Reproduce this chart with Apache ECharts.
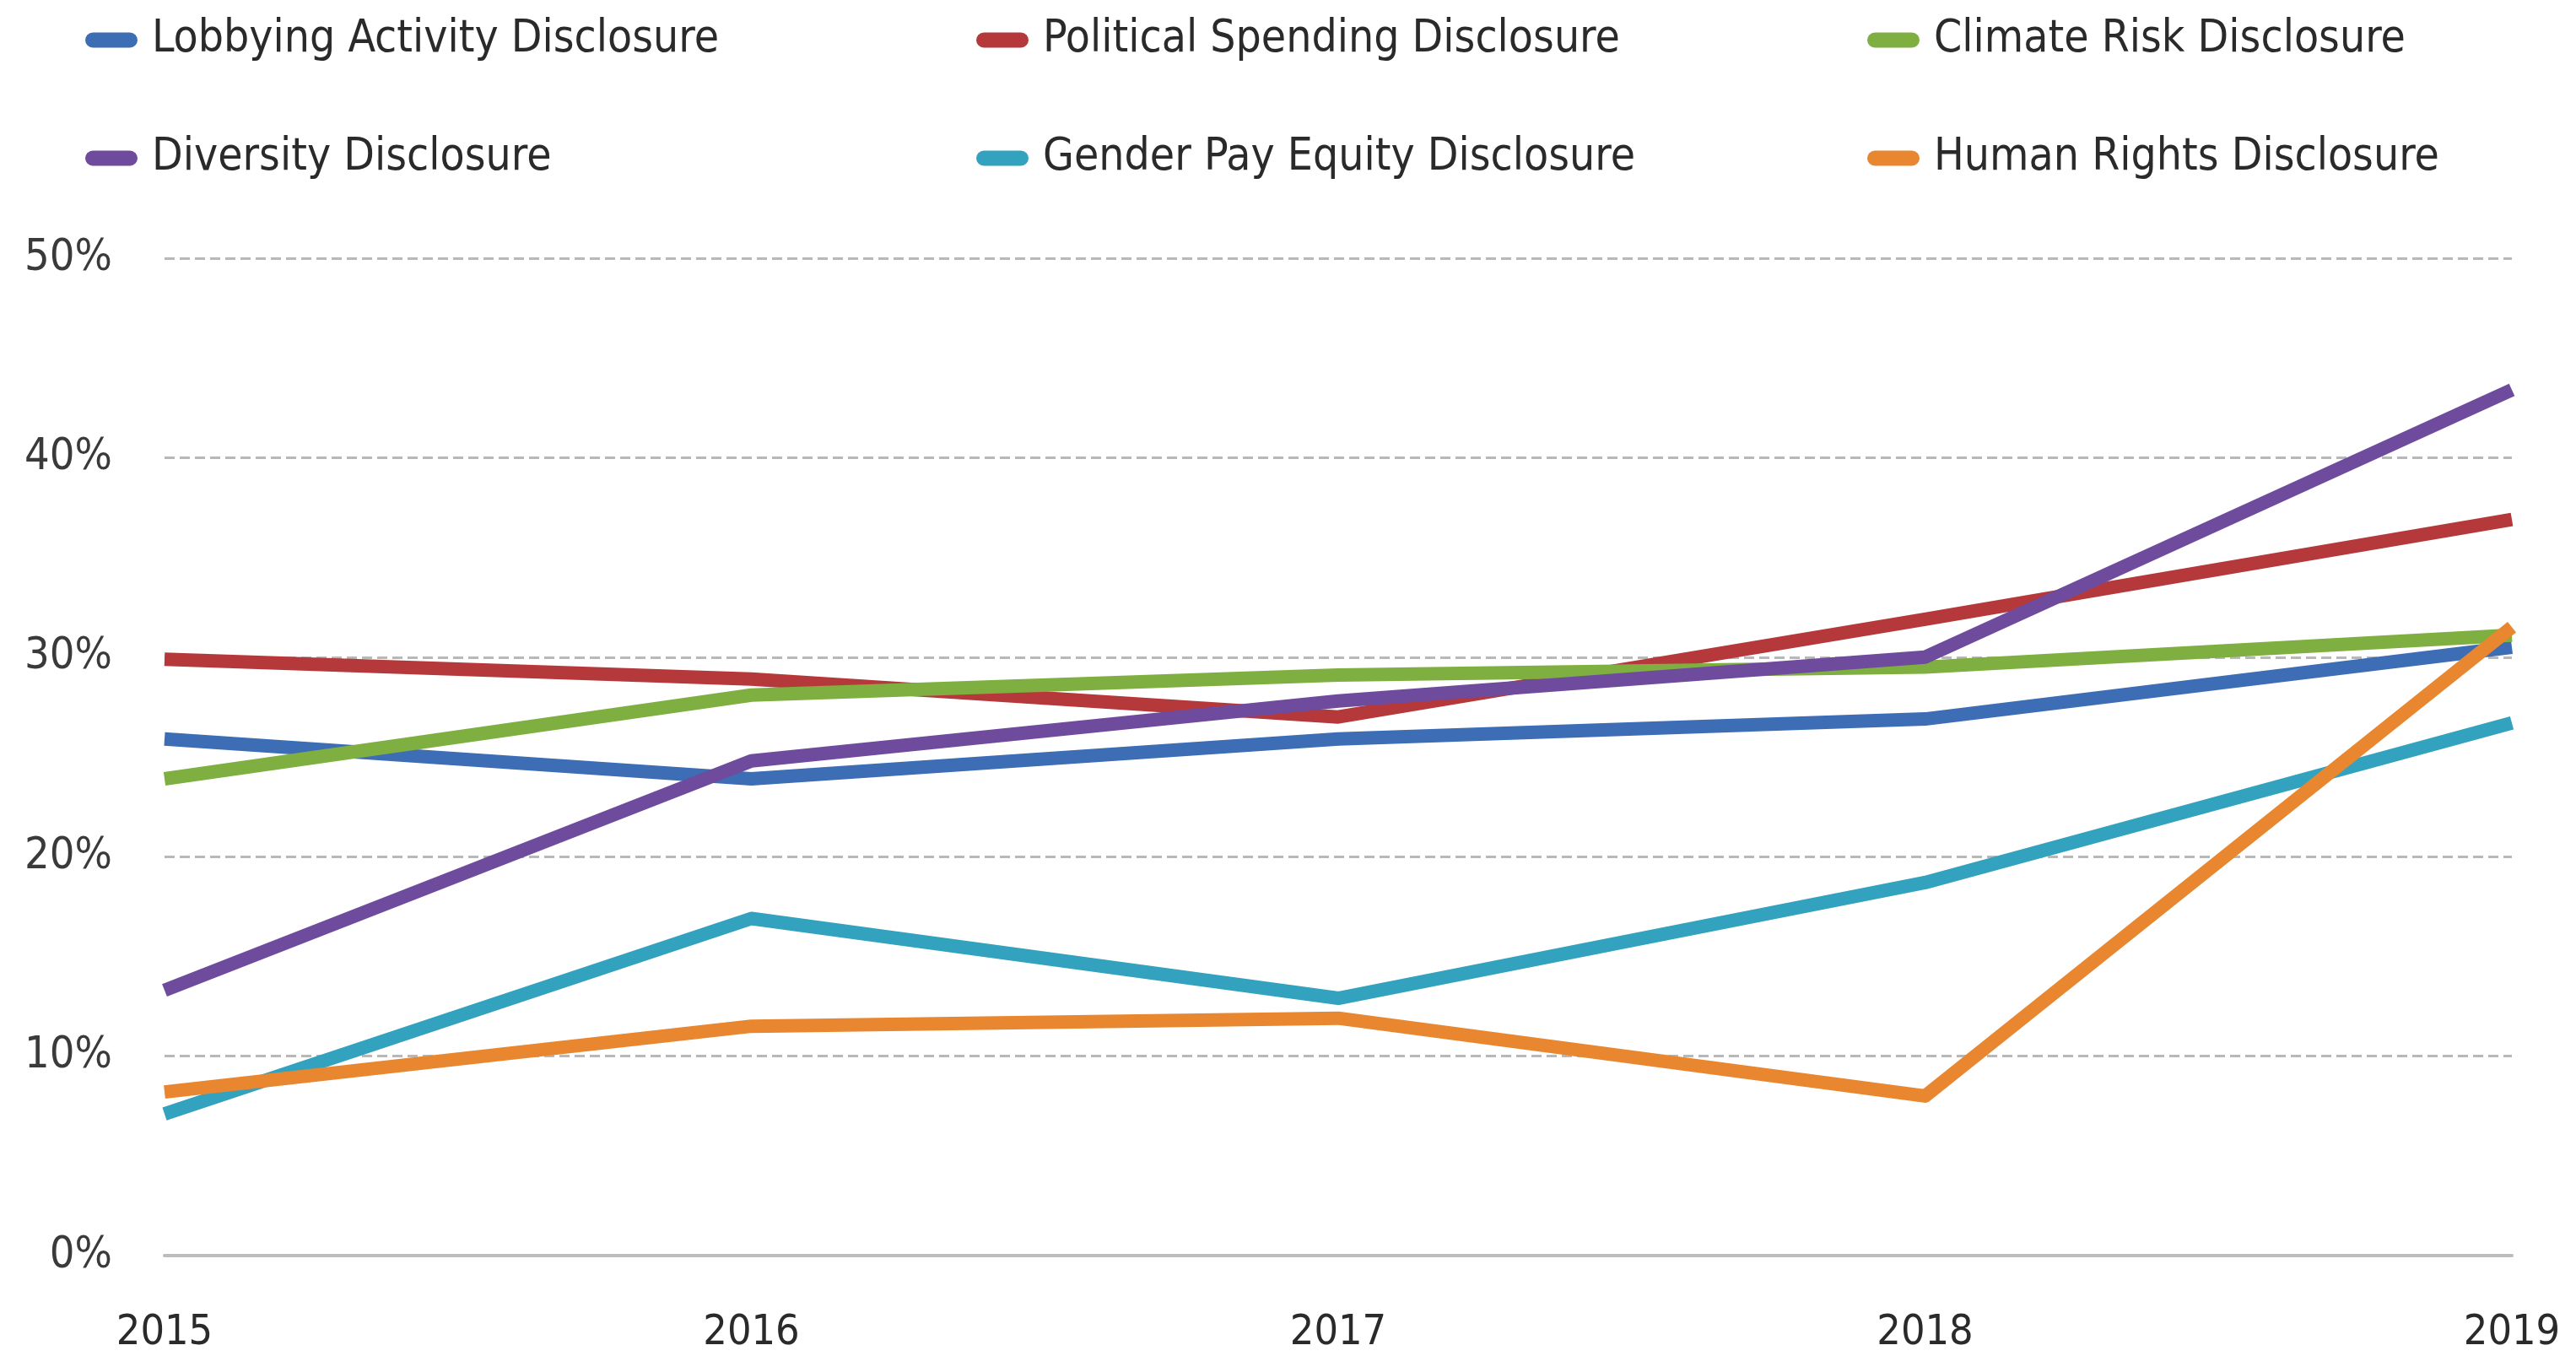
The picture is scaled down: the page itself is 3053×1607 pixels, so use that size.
<!DOCTYPE html>
<html>
<head>
<meta charset="utf-8">
<script src="https://cdn.jsdelivr.net/npm/echarts@6/dist/echarts.min.js"></script>
<style>
html,body{margin:0;padding:0;background:#fff;}
#chart{width:3053px;height:1607px;}
</style>
</head>
<body>
<div id="chart"></div>
<script>
const years = ['2015', '2016', '2017', '2018', '2019'];
const seriesNames = ['Lobbying Activity Disclosure', 'Political Spending Disclosure', 'Climate Risk Disclosure',
  'Diversity Disclosure', 'Gender Pay Equity Disclosure', 'Human Rights Disclosure'];
const lobbying = [25.9, 23.9, 25.9, 26.9, 30.5];
const political = [29.9, 28.9, 27.0, 31.9, 36.9];
const climate = [23.9, 28.1, 29.1, 29.5, 31.1];
const diversity = [13.3, 24.8, 27.8, 30.0, 43.4];
const genderPay = [7.1, 16.9, 12.9, 18.7, 26.7];
const humanRights = [8.2, 11.5, 11.9, 8.0, 31.5];
const yTicks = [0, 10, 20, 30, 40, 50];

const colors = ['#3D6DB5', '#B5393A', '#7FAF41', '#6F4B9E', '#33A2BE', '#E88730'];
const values = [lobbying, political, climate, diversity, genderPay, humanRights];
const FONT = "'DejaVu Sans Condensed', 'Liberation Sans Narrow', sans-serif";
const PILL = 'path://M9,0 H53 A9,9 0 0 1 53,18 H9 A9,9 0 0 1 9,0 Z';

const legendPos = [
  {left: 101, top: 21}, {left: 1157, top: 21}, {left: 2213, top: 21},
  {left: 101, top: 161}, {left: 1157, top: 161}, {left: 2213, top: 161}
];

const chart = echarts.init(document.getElementById('chart'));
chart.setOption({
  backgroundColor: '#ffffff',
  animation: false,
  color: colors,
  legend: seriesNames.map((n, i) => ({
    data: [n],
    left: legendPos[i].left,
    top: legendPos[i].top,
    icon: PILL,
    itemWidth: 62,
    itemHeight: 18,
    padding: 0,
    selectedMode: false,
    textStyle: {fontFamily: FONT, fontSize: 53, color: '#2a2a2a', padding: [0, 0, 0, 12]}
  })),
  grid: {left: 195, right: 76, top: 306, bottom: 119, containLabel: false},
  xAxis: {
    type: 'category',
    data: years,
    boundaryGap: false,
    axisLine: {show: true, lineStyle: {color: '#bdbdbd', width: 4}},
    axisTick: {show: false},
    axisLabel: {fontFamily: FONT, fontSize: 50, color: '#2a2a2a', margin: 67}
  },
  yAxis: {
    type: 'value',
    min: yTicks[0],
    max: yTicks[yTicks.length - 1],
    interval: 10,
    axisLine: {show: false},
    axisTick: {show: false},
    axisLabel: {fontFamily: FONT, fontSize: 52, color: '#3a3a3a', margin: 62, formatter: v => v + '%'},
    splitLine: {show: true, lineStyle: {color: '#b8b8b8', width: 3, type: [12, 6]}}
  },
  series: seriesNames.map((n, i) => ({
    name: n,
    type: 'line',
    data: values[i],
    symbol: 'none',
    lineStyle: {width: 16, color: colors[i], cap: 'butt', join: 'round'},
    itemStyle: {color: colors[i]}
  }))
});
</script>
</body>
</html>
